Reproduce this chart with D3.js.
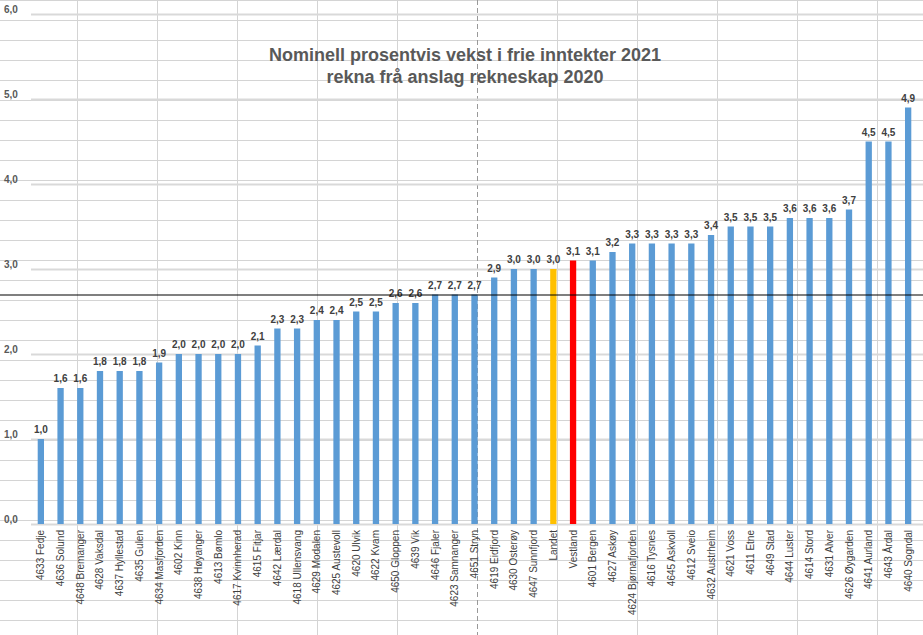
<!DOCTYPE html><html><head><meta charset="utf-8">
<script src="https://cdn.jsdelivr.net/npm/d3@7"></script>
<style>body{margin:0;background:#fff}svg{display:block}</style></head><body>
<svg id="c" width="923" height="635"></svg>
<script>
const categories=["4633 Fedje","4636 Solund","4648 Bremanger","4628 Vaksdal","4637 Hyllestad","4635 Gulen","4634 Masfjorden","4602 Kinn","4638 Høyanger","4613 Bømlo","4617 Kvinnherad","4615 Fitjar","4642 Lærdal","4618 Ullensvang","4629 Modalen","4625 Austevoll","4620 Ulvik","4622 Kvam","4650 Gloppen","4639 Vik","4646 Fjaler","4623 Samnanger","4651 Stryn","4619 Eidfjord","4630 Osterøy","4647 Sunnfjord","Landet","Vestland","4601 Bergen","4627 Askøy","4624 Bjørnafjorden","4616 Tysnes","4645 Askvoll","4612 Sveio","4632 Austrheim","4621 Voss","4611 Etne","4649 Stad","4644 Luster","4614 Stord","4631 Alver","4626 Øygarden","4641 Aurland","4643 Årdal","4640 Sogndal"];
const values=[1.0,1.6,1.6,1.8,1.8,1.8,1.9,2.0,2.0,2.0,2.0,2.1,2.3,2.3,2.4,2.4,2.5,2.5,2.6,2.6,2.7,2.7,2.7,2.9,3.0,3.0,3.0,3.1,3.1,3.2,3.3,3.3,3.3,3.3,3.4,3.5,3.5,3.5,3.6,3.6,3.6,3.7,4.5,4.5,4.9];
const yTicks=[0,1,2,3,4,5,6];
const refLine=2.7;
const title=["Nominell prosentvis vekst i frie inntekter 2021","rekna frå anslag rekneskap 2020"];
const svg=d3.select("#c");
// spreadsheet cell grid
const g0=svg.append("g").attr("stroke","#d4d4d4").attr("stroke-width",1);
d3.range(0,636,20).forEach(y=>g0.append("line").attr("x1",0).attr("x2",923).attr("y1",y+0.5).attr("y2",y+0.5));
d3.range(77,923,80).forEach(x=>{const l=g0.append("line").attr("x1",x+0.5).attr("x2",x+0.5).attr("y1",0).attr("y2",635);if(x===477)l.attr("stroke","#999").attr("stroke-dasharray","5,3");});
const x=d3.scaleBand().domain(categories).range([31,918]).paddingInner(0.68).paddingOuter(0.34);
const y=d3.scaleLinear().domain([0,6]).range([524,14]);
const gy=svg.append("g").attr("transform","translate(31,0)").call(d3.axisLeft(y).tickValues(yTicks).tickSize(-892).tickFormat(d=>d3.format(".1f")(d).replace(".",",")));
gy.select(".domain").remove();
gy.selectAll(".tick line").attr("stroke","#d9d9d9").attr("stroke-width",2);
gy.selectAll(".tick text").attr("x",-27).attr("text-anchor","start").attr("dy","-0.2em").attr("fill","#595959").style("font","bold 10px 'Liberation Sans',Arial");
svg.append("g").selectAll("rect").data(values).join("rect")
 .attr("x",(d,i)=>x(categories[i])).attr("width",x.bandwidth())
 .attr("y",d=>y(d)).attr("height",d=>y(0)-y(d))
 .attr("fill",(d,i)=>categories[i]==="Landet"?"#FFC000":categories[i]==="Vestland"?"#FF0000":"#5B9BD5");
svg.append("g").selectAll("text").data(values).join("text")
 .attr("x",(d,i)=>x(categories[i])+x.bandwidth()/2).attr("y",d=>y(d)-6).attr("text-anchor","middle")
 .attr("fill","#404040").style("font","bold 10px 'Liberation Sans',Arial").text(d=>d3.format(".1f")(d).replace(".",","));
const gx=svg.append("g").attr("transform","translate(0,524)").call(d3.axisBottom(x).tickSize(0));
gx.select(".domain").attr("stroke","#d9d9d9");
gx.selectAll(".tick text").attr("transform","rotate(-90)").attr("x",-6).attr("y",0).attr("dy","0.35em").attr("text-anchor","end").attr("fill","#404040").style("font","10px 'Liberation Sans',Arial");
svg.append("line").attr("x1",0).attr("x2",923).attr("y1",y(refLine)+0.5).attr("y2",y(refLine)+0.5).attr("stroke","#000").attr("stroke-width",1.2);
svg.append("text").attr("x",465).attr("text-anchor","middle").attr("fill","#595959").style("font","bold 18px 'Liberation Sans',Arial")
 .selectAll("tspan").data(title).join("tspan").attr("x",465).attr("y",(d,i)=>61+i*22).text(d=>d);
</script></body></html>
